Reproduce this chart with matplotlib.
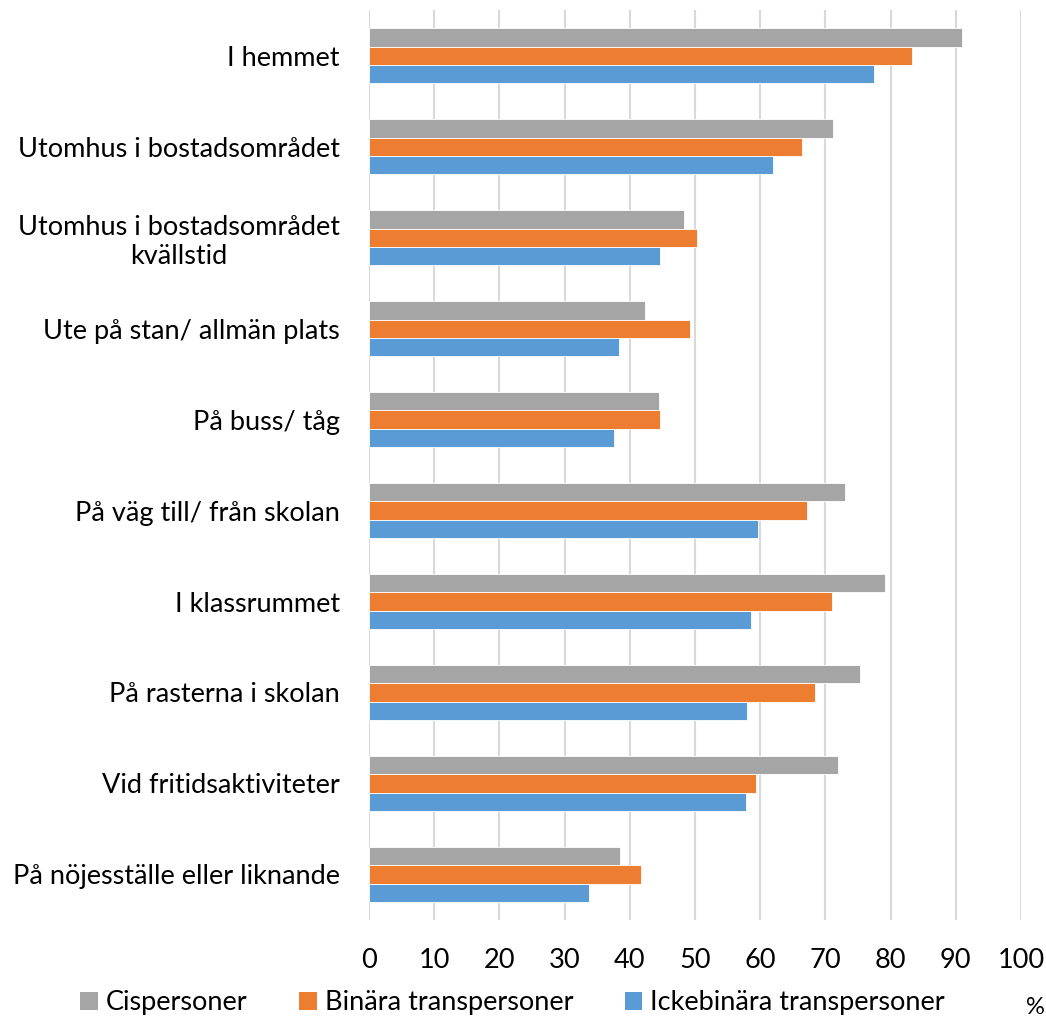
import numpy as np
import matplotlib.pyplot as plt
from matplotlib.patches import Patch

plt.rcParams['font.family'] = ['Lato', 'DejaVu Sans']

# ----------------------------------------------------------
# Data (percent)
# ----------------------------------------------------------
categories = [
    "I hemmet",
    "Utomhus i bostadsområdet",
    "Utomhus i bostadsområdet\nkvällstid",
    "Ute på stan/ allmän plats",
    "På buss/ tåg",
    "På väg till/ från skolan",
    "I klassrummet",
    "På rasterna i skolan",
    "Vid fritidsaktiviteter",
    "På nöjesställe eller liknande",
]
cis = [91.0, 71.2, 48.3, 42.3, 44.5, 73.0, 79.1, 75.3, 71.9, 38.5]
binara = [83.3, 66.4, 50.3, 49.2, 44.6, 67.2, 71.0, 68.4, 59.4, 41.7]
ickebinara = [77.4, 61.9, 44.6, 38.3, 37.6, 59.7, 58.6, 58.0, 57.8, 33.7]

series_names = ["Cispersoner", "Binära transpersoner", "Ickebinära transpersoner"]
colors = ["#A5A5A5", "#ED7D31", "#5B9BD5"]

# ----------------------------------------------------------
# Plot
# ----------------------------------------------------------
fig = plt.figure(figsize=(10.46, 10.21), dpi=100)
ax = fig.add_axes([0.3528, 0.099, 0.6232, 0.891])

y = np.arange(len(categories))
h = 0.2
for i, (vals, col) in enumerate(zip([cis, binara, ickebinara], colors)):
    ax.barh(y + (i - 1) * h, vals, height=h, color=col,
            edgecolor="white", linewidth=0.6, zorder=3)

ax.set_ylim(len(categories) - 0.5, -0.5)
ax.set_xlim(0, 100)
ax.set_xticks(np.arange(0, 101, 10))
ax.set_yticks(y)
ax.set_yticklabels(categories, multialignment="center")
ax.tick_params(axis="y", length=0, pad=21, labelsize=19.5)
ax.tick_params(axis="x", length=0, pad=20, labelsize=19.5)

ax.grid(axis="x", color="#D9D9D9", linewidth=1.5, zorder=0)
for s in ax.spines.values():
    s.set_visible(False)

handles = [Patch(facecolor=c, label=n) for c, n in zip(colors, series_names)]
fig.legend(handles=handles, loc="center", bbox_to_anchor=(0.49, 0.018),
           ncol=3, frameon=False, fontsize=19.5, handlelength=0.65,
           handleheight=0.65, handletextpad=0.3, columnspacing=1.9)

fig.text(0.99, 0.003, "%", fontsize=17, ha="center", va="bottom")

fig.savefig("out.png", dpi=100)
